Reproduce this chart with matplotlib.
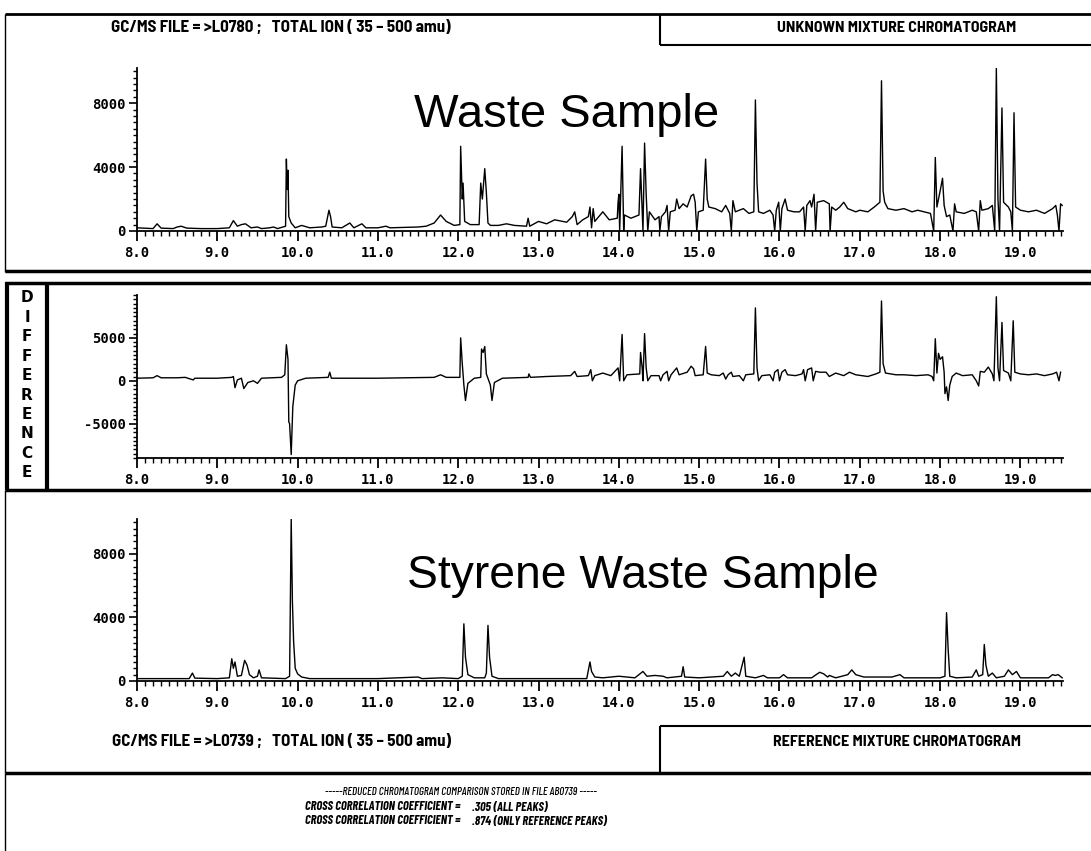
import matplotlib
matplotlib.use("Agg")
import matplotlib.pyplot as plt
from matplotlib.lines import Line2D
from matplotlib.ticker import MultipleLocator, FixedLocator

# ---------------- data (retention time in minutes, total ion counts) ----------------
waste_t = [8.00, 8.20, 8.25, 8.30, 8.45, 8.50, 8.55, 8.62, 8.80, 9.00, 9.15, 9.20, 9.25, 9.30, 9.35,
           9.42, 9.50, 9.55, 9.65, 9.70, 9.75, 9.82, 9.85, 9.86, 9.87, 9.88, 9.89, 9.92, 9.97, 10.05,
           10.15, 10.30, 10.35, 10.39, 10.41, 10.43, 10.55, 10.65, 10.70, 10.80, 10.85, 11.00, 11.10,
           11.15, 11.50, 11.60, 11.70, 11.78, 11.85, 11.95, 12.02, 12.03, 12.05, 12.06, 12.08, 12.15,
           12.26, 12.28, 12.30, 12.33, 12.35, 12.37, 12.40, 12.50, 12.60, 12.70, 12.85, 12.87, 12.89,
           13.00, 13.10, 13.20, 13.35, 13.42, 13.45, 13.48, 13.55, 13.62, 13.64, 13.66, 13.68, 13.70,
           13.80, 13.88, 13.98, 13.99, 14.00, 14.01, 14.04, 14.06, 14.07, 14.15, 14.25, 14.27, 14.29,
           14.30, 14.32, 14.34, 14.36, 14.38, 14.45, 14.50, 14.51, 14.53, 14.58, 14.60, 14.62, 14.64,
           14.70, 14.72, 14.75, 14.80, 14.85, 14.90, 14.93, 14.95, 14.97, 14.99, 15.05, 15.08, 15.10,
           15.12, 15.20, 15.28, 15.33, 15.38, 15.40, 15.42, 15.45, 15.55, 15.62, 15.68, 15.70, 15.72,
           15.74, 15.80, 15.88, 15.92, 15.94, 15.96, 15.99, 16.01, 16.03, 16.07, 16.10, 16.18, 16.25,
           16.30, 16.32, 16.34, 16.38, 16.40, 16.43, 16.45, 16.47, 16.55, 16.62, 16.63, 16.65, 16.70,
           16.75, 16.80, 16.85, 16.95, 17.00, 17.10, 17.18, 17.25, 17.27, 17.29, 17.31, 17.35, 17.45,
           17.55, 17.65, 17.72, 17.80, 17.88, 17.92, 17.94, 17.96, 18.00, 18.03, 18.05, 18.08, 18.12,
           18.16, 18.18, 18.20, 18.30, 18.40, 18.45, 18.48, 18.50, 18.52, 18.60, 18.65, 18.68, 18.70,
           18.72, 18.74, 18.77, 18.79, 18.85, 18.88, 18.90, 18.92, 18.94, 19.00, 19.10, 19.20, 19.30,
           19.40, 19.44, 19.46, 19.48, 19.50, 19.52]
waste_i = [200, 150, 450, 180, 150, 250, 300, 180, 150, 150, 200, 650, 300, 400, 450,
           200, 250, 150, 200, 250, 150, 250, 300, 4500, 2600, 3800, 900, 500, 200, 350,
           200, 250, 300, 1300, 900, 250, 200, 500, 200, 450, 200, 200, 300,
           200, 250, 300, 500, 1000, 600, 350, 400, 5300, 2000, 3000, 600, 400,
           400, 3000, 2000, 3900, 2400, 500, 350, 350, 450, 350, 300, 800, 300,
           600, 450, 700, 550, 900, 1200, 400, 700, 900, 1500, 200, 1400, 600,
           1200, 700, 800, 1800, 2300, 0, 5300, 0, 1000, 800, 1000, 3900, 1200,
           0, 5500, 2300, 0, 1200, 700, 900, 0, 900, 1200, 1600, 0, 1200,
           1300, 2000, 1400, 1700, 1500, 2200, 2300, 1800, 0, 1200, 1300, 4500, 2000,
           1500, 1400, 1200, 1600, 1100, 0, 1900, 1200, 1400, 1100, 1200, 8200, 3000,
           1200, 1100, 1300, 1000, 0, 1300, 1800, 0, 1400, 2000, 1300, 1200, 1200,
           1500, 0, 1600, 1900, 1500, 2300, 0, 1800, 1900, 1700, 0, 1500, 1300,
           1500, 1800, 1400, 1200, 1300, 1200, 1500, 1800, 9400, 2500, 1800, 1400, 1300,
           1400, 1200, 1300, 1200, 1100, 0, 4600, 1500, 2500, 3300, 1600, 900, 1000,
           0, 1700, 1200, 1100, 1300, 1200, 0, 1900, 1300, 1400, 1600, 0, 10200,
           2000, 0, 7700, 1800, 1500, 1200, 0, 7400, 1500, 1300, 1200, 1300, 1100,
           1400, 1600, 1000, 0, 1700, 1600]

diff_t = [8.00, 8.20, 8.25, 8.30, 8.50, 8.60, 8.70, 8.72, 9.00, 9.18, 9.20, 9.22, 9.25, 9.30, 9.33,
          9.38, 9.45, 9.50, 9.55, 9.80, 9.84, 9.86, 9.88, 9.89, 9.90, 9.92, 9.94, 9.97, 10.00, 10.10,
          10.38, 10.40, 10.42, 11.00, 11.70, 11.78, 11.85, 12.02, 12.03, 12.05, 12.07, 12.09, 12.12,
          12.20, 12.28, 12.29, 12.31, 12.33, 12.35, 12.40, 12.42, 12.45, 12.55, 12.87, 12.88, 12.90,
          13.10, 13.40, 13.45, 13.48, 13.62, 13.65, 13.67, 13.70, 13.80, 13.90, 13.99, 14.01, 14.04,
          14.06, 14.10, 14.26, 14.27, 14.29, 14.30, 14.32, 14.34, 14.36, 14.40, 14.50, 14.52, 14.55,
          14.60, 14.62, 14.65, 14.72, 14.75, 14.85, 14.90, 14.93, 14.95, 15.05, 15.08, 15.10, 15.15,
          15.25, 15.30, 15.33, 15.36, 15.40, 15.42, 15.50, 15.55, 15.58, 15.68, 15.70, 15.72, 15.74,
          15.78, 15.88, 15.92, 15.94, 15.98, 16.00, 16.03, 16.07, 16.10, 16.20, 16.28, 16.30, 16.32,
          16.35, 16.40, 16.42, 16.45, 16.50, 16.58, 16.62, 16.70, 16.80, 16.87, 16.95, 17.10, 17.20,
          17.25, 17.27, 17.29, 17.32, 17.45, 17.55, 17.70, 17.85, 17.90, 17.92, 17.94, 17.96, 17.98,
          18.00, 18.03, 18.05, 18.06, 18.08, 18.10, 18.12, 18.15, 18.20, 18.28, 18.40, 18.45, 18.48,
          18.50, 18.55, 18.60, 18.65, 18.67, 18.70, 18.72, 18.74, 18.77, 18.79, 18.85, 18.88, 18.91,
          18.93, 19.00, 19.10, 19.20, 19.30, 19.40, 19.45, 19.48, 19.50]
diff_i = [300, 350, 600, 350, 350, 400, 100, 300, 300, 400, 500, -800, 100, 300, -900,
          -200, 0, -300, 300, 400, 700, 4200, 2500, -4800, -5000, -8600, -3000, -500, 0, 300,
          400, 1000, 300, 300, 400, 700, 400, 400, 5000, 2000, -500, -2300, -300,
          300, 400, 3700, 3300, 4000, 800, -500, -2300, -200, 300, 400, 800, 400,
          500, 600, 1100, 500, 600, 1300, 0, 600, 900, 600, 1500, 0, 5400,
          0, 700, 800, 3300, 1500, 0, 5500, 1500, 0, 600, 600, 0, 700,
          1100, 0, 700, 1500, 700, 1000, 1700, 1400, 600, 700, 4000, 900, 700,
          600, 900, 200, 700, 1000, 500, 600, 0, 700, 800, 8500, 1500, 0,
          600, 700, 0, 1000, 1300, 0, 1000, 1300, 700, 600, 800, 1300, 0,
          1300, 1500, 0, 1100, 1000, 1000, 500, 900, 600, 1000, 700, 500, 800,
          1000, 9300, 2000, 900, 700, 700, 600, 700, 500, 0, 4900, 900, 3200,
          2500, 2800, 1000, -1500, -700, -2300, -500, 500, 900, 600, 700, 0, -600,
          1100, 1000, 1600, 800, 0, 9800, 1500, 0, 6800, 1200, 900, 0, 7000,
          1000, 800, 700, 800, 600, 800, 1000, 0, 1000]

ref_t = [8.00, 8.30, 8.65, 8.69, 8.72, 9.00, 9.15, 9.18, 9.20, 9.22, 9.25, 9.30, 9.34, 9.37, 9.40,
         9.45, 9.50, 9.52, 9.55, 9.85, 9.90, 9.92, 9.935, 9.95, 9.97, 10.00, 10.05, 10.15, 11.00,
         11.50, 11.55, 11.80, 12.00, 12.05, 12.07, 12.09, 12.12, 12.20, 12.33, 12.35, 12.37, 12.39,
         12.42, 12.50, 13.60, 13.64, 13.66, 13.70, 13.80, 14.00, 14.10, 14.20, 14.30, 14.35, 14.45,
         14.55, 14.60, 14.78, 14.80, 14.82, 15.00, 15.30, 15.35, 15.40, 15.45, 15.50, 15.56, 15.58,
         15.70, 15.80, 15.85, 16.00, 16.05, 16.10, 16.40, 16.50, 16.55, 16.60, 16.62, 16.70, 16.85,
         16.90, 16.95, 17.05, 17.20, 17.40, 17.50, 17.55, 18.00, 18.06, 18.08, 18.10, 18.12, 18.20,
         18.40, 18.45, 18.48, 18.53, 18.55, 18.57, 18.60, 18.65, 18.70, 18.80, 18.85, 18.90, 18.95,
         19.00, 19.35, 19.40, 19.43, 19.47, 19.52]
ref_i = [150, 150, 150, 500, 180, 150, 200, 1400, 800, 1200, 300, 350, 1300, 1000, 400,
         200, 300, 700, 200, 150, 300, 10200, 5000, 2500, 800, 450, 250, 150, 150,
         250, 150, 200, 150, 300, 3600, 1500, 400, 200, 200, 500, 3500, 1500,
         300, 150, 150, 1200, 600, 250, 200, 300, 250, 200, 600, 300, 350,
         300, 200, 300, 900, 250, 200, 300, 600, 300, 500, 300, 1500, 300,
         200, 350, 200, 200, 400, 200, 200, 550, 450, 250, 350, 200, 400,
         700, 400, 250, 250, 250, 400, 200, 200, 300, 4300, 2000, 300, 200,
         250, 700, 300, 400, 2300, 1000, 300, 500, 200, 300, 700, 400, 600,
         200, 200, 400, 350, 400, 200]

x_ticks = [8, 9, 10, 11, 12, 13, 14, 15, 16, 17, 18, 19]
x_labels = ["8.0", "9.0", "10.0", "11.0", "12.0", "13.0", "14.0", "15.0", "16.0", "17.0", "18.0", "19.0"]
abund_ticks = [0, 4000, 8000]
diff_ticks = [-5000, 0, 5000]

# ---------------- figure ----------------
W, H = 1091, 851
fig = plt.figure(figsize=(W / 100, H / 100), dpi=100)
fig.patch.set_facecolor("white")


def fx(px):
    return px / W


def fy(py):
    return 1 - py / H


def hline(x0, x1, y, lw):
    fig.add_artist(Line2D([fx(x0), fx(x1)], [fy(y), fy(y)], transform=fig.transFigure,
                          color="black", lw=lw, solid_capstyle="butt"))


def vline(x, y0, y1, lw):
    fig.add_artist(Line2D([fx(x), fx(x)], [fy(y0), fy(y1)], transform=fig.transFigure,
                          color="black", lw=lw, solid_capstyle="butt"))


def make_axes(top_py, bottom_py):
    return fig.add_axes([fx(137), fy(bottom_py), fx(1063) - fx(137), (bottom_py - top_py) / H])


TICKFONT = "DejaVu Sans Mono"


def style(ax, ylim, yticks, yminor):
    ax.set_xlim(8.0, 19.53)
    ax.set_ylim(*ylim)
    for s in ("top", "right"):
        ax.spines[s].set_visible(False)
    for s in ("left", "bottom"):
        ax.spines[s].set_linewidth(1.3)
    ax.xaxis.set_major_locator(FixedLocator(x_ticks))
    ax.set_xticklabels(x_labels)
    ax.xaxis.set_minor_locator(MultipleLocator(0.1))
    ax.yaxis.set_major_locator(FixedLocator(yticks))
    ax.set_yticklabels([str(v) for v in yticks])
    ax.yaxis.set_minor_locator(MultipleLocator(yminor))
    ax.tick_params(axis="x", which="major", direction="out", length=7, width=1.3,
                   labelsize=10, pad=4)
    ax.tick_params(axis="x", which="minor", direction="out", length=3.5, width=1.0)
    ax.tick_params(axis="y", which="major", direction="out", length=6, width=1.2,
                   labelsize=10, pad=2)
    ax.tick_params(axis="y", which="minor", direction="out", length=3, width=1.0)
    for lab in ax.get_xticklabels() + ax.get_yticklabels():
        lab.set_fontfamily(TICKFONT)
        lab.set_fontweight("bold")
    ax.patch.set_alpha(0)


ax1 = make_axes(68, 231)
ax2 = make_axes(295, 458)
ax3 = make_axes(519, 681)

ax1.plot(waste_t, waste_i, color="black", lw=1.0)
ax2.plot(diff_t, diff_i, color="black", lw=1.0)
ax3.plot(ref_t, ref_i, color="black", lw=1.0)

style(ax1, (0, 10200), abund_ticks, 400)
style(ax2, (-9000, 10000), diff_ticks, 500)
style(ax3, (0, 10200), abund_ticks, 400)

# ---------------- frames ----------------
hline(5, 1091, 14, 2.0)
vline(5, 14, 272, 1.0)
hline(660, 1091, 45, 1.5)
vline(660, 14, 45, 1.5)
hline(5, 1091, 271, 2.5)
vline(7, 282, 490, 3.0)
vline(47, 282, 490, 3.0)
hline(5, 1091, 283, 2.5)
hline(5, 1091, 490, 2.5)
vline(5, 490, 773, 1.0)
hline(660, 1091, 726, 1.5)
vline(660, 726, 773, 1.5)
hline(5, 1091, 773, 2.5)
vline(5, 773, 851, 1.0)

HEAD = ["Barlow Semi Condensed", "DejaVu Sans"]
NARROW = ["Barlow Condensed", "DejaVu Sans"]
fig.text(fx(281), fy(27), "GC/MS FILE = >L0780 ;   TOTAL ION ( 35 \u2013 500 amu)", ha="center",
         va="center", fontsize=12.2, fontweight="bold", family=HEAD)
fig.text(fx(897), fy(28), "UNKNOWN MIXTURE CHROMATOGRAM", ha="center", va="center",
         fontsize=11.5, fontweight="bold", family=HEAD)
fig.text(fx(281), fy(741), "GC/MS FILE = >L0739 ;   TOTAL ION ( 35 \u2013 500 amu)", ha="center",
         va="center", fontsize=12.2, fontweight="bold", family=HEAD)
fig.text(fx(897), fy(742), "REFERENCE MIXTURE CHROMATOGRAM", ha="center", va="center",
         fontsize=11.5, fontweight="bold", family=HEAD)

fig.text(fx(567), fy(127), "Waste Sample", ha="center", va="baseline", fontsize=34,
         family="Liberation Sans")
fig.text(fx(643), fy(588), "Styrene Waste Sample", ha="center", va="baseline", fontsize=33.3,
         family="Liberation Sans")

for k, ch in enumerate("DIFFERENCE"):
    fig.text(fx(27), fy(298 + k * 19.4), ch, ha="center", va="center", fontsize=11,
             fontweight="bold", family="DejaVu Sans")

fig.text(fx(461), fy(792), "-----REDUCED CHROMATOGRAM COMPARISON STORED IN FILE AB0739 -----",
         ha="center", va="center", fontsize=8, style="italic", fontweight="medium", family=NARROW)
for yy, val in ((807, ".305 (ALL PEAKS)"), (821, ".874 (ONLY REFERENCE PEAKS)")):
    fig.text(fx(305), fy(yy), "CROSS CORRELATION COEFFICIENT =", ha="left", va="center",
             fontsize=9, style="italic", fontweight="bold", family=NARROW)
    fig.text(fx(472), fy(yy), val, ha="left", va="center",
             fontsize=9, style="italic", fontweight="bold", family=NARROW)

fig.savefig("out.png", dpi=100)
